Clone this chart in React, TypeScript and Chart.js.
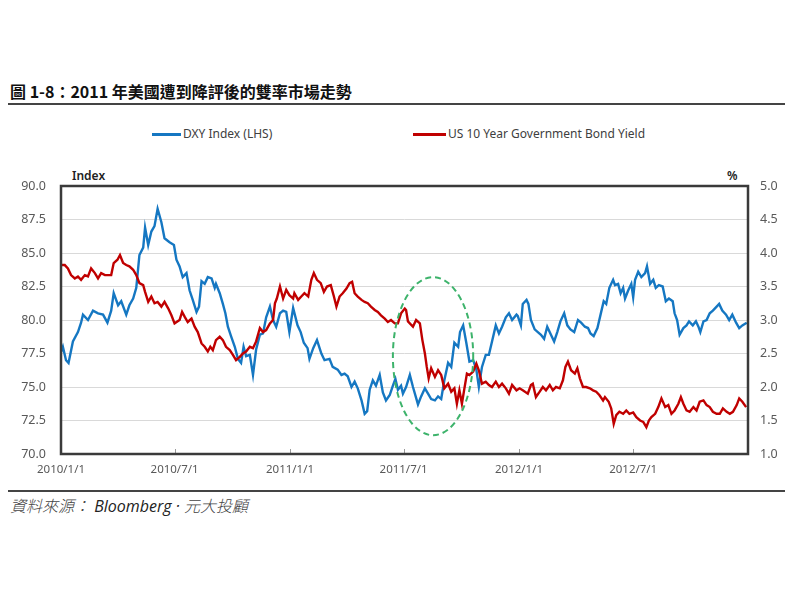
import React, { useEffect, useRef } from "react";
import { Chart, registerables } from "chart.js";

Chart.register(...registerables);

// x axis: days since 2010/1/1
const tickDays = [0, 181, 365, 546, 730, 912];
const tickLabels = ["2010/1/1", "2010/7/1", "2011/1/1", "2011/7/1", "2012/1/1", "2012/7/1"];

const dxyDays = [
  0, 3, 8, 12, 19, 27, 32, 35, 43, 51,
  59, 67, 74, 80, 84, 91, 96, 104, 109, 115,
  120, 125, 131, 134, 139, 144, 149, 154, 160, 165,
  173, 180, 184, 189, 194, 200, 205, 210, 216, 220,
  224, 229, 234, 240, 245, 247, 253, 258, 262, 266,
  271, 277, 282, 287, 291, 295, 301, 306, 311, 317,
  322, 327, 333, 338, 343, 349, 354, 359, 364, 370,
  377, 382, 387, 393, 396, 402, 408, 415, 420, 428,
  433, 441, 447, 452, 457, 463, 468, 473, 479, 484,
  488, 492, 497, 502, 508, 513, 518, 524, 529, 533,
  537, 542, 545, 550, 556, 561, 569, 574, 580, 585,
  590, 596, 601, 606, 611, 617, 622, 627, 633, 636,
  641, 646, 651, 657, 662, 666, 671, 677, 682, 687,
  693, 698, 703, 709, 714, 719, 726, 728, 733, 736,
  742, 745, 749, 755, 760, 765, 770, 775, 780, 786,
  791, 796, 802, 807, 812, 818, 824, 829, 835, 840,
  844, 849, 855, 860, 865, 869, 874, 880, 883, 888,
  892, 896, 899, 904, 909, 912, 915, 920, 925, 931,
  934, 939, 944, 948, 953, 959, 964, 969, 975, 978,
  982, 986, 992, 997, 1001, 1007, 1012, 1016, 1019, 1024,
  1029, 1034, 1039, 1045, 1049, 1054, 1060, 1065, 1070, 1076,
  1081, 1086, 1093,
];

const dxyValues = [
  77.6, 78.0, 77.0, 76.8, 78.4, 79.1, 79.8, 80.4, 80.0, 80.7,
  80.5, 80.4, 79.8, 80.7, 82.0, 81.1, 81.4, 80.4, 81.1, 81.6,
  82.4, 84.85, 85.4, 86.9, 85.6, 86.6, 87.0, 88.3, 87.3, 86.1,
  85.8, 85.6, 84.5, 84.0, 83.2, 83.5, 82.2, 81.5, 80.6, 81.0,
  82.9, 82.7, 83.2, 83.1, 82.4, 82.7, 82.0, 81.2, 80.5, 79.5,
  78.8, 78.0, 77.1, 76.8, 78.0, 77.3, 77.4, 75.9, 77.8, 78.9,
  79.0, 80.2, 81.0, 80.0, 79.5, 80.5, 80.7, 80.6, 79.1, 80.9,
  79.6, 79.1, 78.3, 77.9, 77.1, 77.9, 78.5, 77.5, 77.0, 77.1,
  76.5, 76.3, 75.9, 76.0, 75.8, 75.0, 75.4, 74.9, 74.0, 73.0,
  73.2, 74.8, 75.5, 75.1, 75.9, 74.6, 74.0, 74.4, 75.1, 75.6,
  74.8, 75.1, 74.5, 75.0, 75.9, 75.0, 73.7, 74.3, 74.9, 74.5,
  74.1, 74.0, 74.3, 74.1, 75.5, 76.8, 76.5, 78.3, 78.0, 79.1,
  79.6, 78.3, 76.9, 77.0, 76.3, 75.0, 76.5, 77.4, 77.4, 78.4,
  79.6, 79.0, 79.5, 80.2, 80.5, 80.0, 80.4, 80.3, 79.6, 81.2,
  81.5, 81.2, 80.0, 79.3, 79.1, 78.9, 78.6, 79.5, 79.0, 78.4,
  79.1, 79.9, 80.5, 79.6, 79.3, 79.1, 80.0, 79.8, 79.5, 79.4,
  79.0, 78.8, 79.4, 80.4, 81.4, 81.2, 82.4, 83.0, 82.6, 82.7,
  82.0, 82.4, 81.6, 82.2, 82.7, 81.7, 83.0, 83.6, 83.2, 83.5,
  84.0, 82.7, 83.0, 82.4, 82.6, 82.5, 81.4, 81.6, 81.4, 80.5,
  80.0, 78.9, 79.4, 79.6, 79.9, 79.6, 79.9, 79.5, 79.1, 79.9,
  80.0, 80.5, 80.7, 81.0, 81.2, 80.7, 80.4, 80.0, 80.4, 79.8,
  79.4, 79.6, 79.8,
];

const ustDays = [
  0, 6, 11, 16, 22, 27, 32, 38, 43, 48,
  54, 59, 64, 70, 75, 80, 84, 90, 94, 99,
  104, 109, 115, 120, 125, 131, 134, 139, 144, 149,
  154, 160, 165, 171, 176, 181, 189, 193, 197, 202,
  208, 213, 218, 224, 229, 234, 238, 242, 247, 253,
  258, 263, 269, 274, 279, 285, 290, 295, 301, 306,
  311, 317, 322, 327, 333, 338, 341, 344, 349, 354,
  359, 364, 370, 372, 378, 383, 388, 394, 399, 403,
  408, 414, 419, 424, 430, 435, 439, 444, 449, 455,
  460, 464, 468, 473, 479, 484, 489, 494, 500, 505,
  510, 516, 521, 526, 532, 537, 542, 548, 550, 553,
  561, 566, 572, 576, 580, 583, 586, 590, 596, 601,
  606, 611, 617, 622, 627, 631, 635, 639, 643, 647,
  651, 657, 662, 666, 671, 677, 682, 687, 693, 698,
  703, 709, 714, 719, 726, 731, 736, 744, 749, 752,
  757, 763, 768, 773, 779, 784, 789, 795, 800, 804,
  808, 813, 819, 823, 827, 832, 837, 843, 848, 853,
  858, 864, 867, 873, 877, 881, 885, 890, 896, 901,
  906, 912, 917, 923, 928, 933, 937, 941, 947, 952,
  957, 963, 968, 973, 978, 984, 988, 992, 997, 1002,
  1008, 1013, 1018, 1024, 1029, 1034, 1039, 1045, 1050, 1055,
  1061, 1066, 1071, 1077, 1081, 1086, 1092,
];

const ustValues = [
  3.82, 3.82, 3.77, 3.67, 3.62, 3.65, 3.60, 3.67, 3.65, 3.77,
  3.70, 3.62, 3.70, 3.67, 3.67, 3.67, 3.85, 3.90, 3.97, 3.85,
  3.82, 3.80, 3.75, 3.67, 3.55, 3.52, 3.42, 3.27, 3.35, 3.25,
  3.27, 3.20, 3.27, 3.17, 3.07, 2.95, 3.00, 3.12, 3.05, 2.97,
  3.02, 2.90, 2.82, 2.65, 2.60, 2.53, 2.60, 2.55, 2.70, 2.75,
  2.70, 2.60, 2.55, 2.48, 2.40, 2.45, 2.50, 2.53, 2.60, 2.58,
  2.68, 2.88, 2.82, 2.85, 2.95, 3.00, 3.25, 3.32, 3.50, 3.32,
  3.45, 3.37, 3.32, 3.40, 3.30, 3.35, 3.40, 3.35, 3.60, 3.70,
  3.60, 3.55, 3.42, 3.50, 3.52, 3.35, 3.20, 3.35, 3.40, 3.47,
  3.55, 3.57, 3.40, 3.35, 3.30, 3.27, 3.25, 3.20, 3.15, 3.12,
  3.07, 3.02, 2.97, 3.00, 2.95, 2.95, 3.10, 3.17, 3.15, 2.98,
  2.90, 3.00, 2.95, 2.70, 2.50, 2.30, 2.13, 2.28, 2.15, 2.25,
  2.18, 1.98, 2.05, 1.93, 1.98, 1.75, 1.95, 1.75, 1.98, 2.20,
  2.18, 2.23, 2.35, 2.25, 2.05, 2.08, 2.03, 2.00, 2.08, 2.00,
  2.05, 1.98, 1.90, 2.03, 1.95, 1.98, 1.95, 1.90, 2.03, 2.05,
  1.85, 1.93, 2.00, 1.95, 2.03, 1.95, 2.00, 1.98, 2.10, 2.30,
  2.38, 2.25, 2.20, 2.28, 2.13, 2.00, 2.00, 1.98, 1.95, 1.93,
  1.88, 1.80, 1.85, 1.78, 1.68, 1.45, 1.58, 1.63, 1.60, 1.65,
  1.60, 1.62, 1.55, 1.50, 1.48, 1.40, 1.50, 1.55, 1.60, 1.70,
  1.83, 1.70, 1.73, 1.60, 1.65, 1.75, 1.85, 1.75, 1.65, 1.63,
  1.70, 1.65, 1.78, 1.80, 1.73, 1.70, 1.63, 1.60, 1.60, 1.68,
  1.63, 1.60, 1.63, 1.73, 1.83, 1.78, 1.70,
];

// highlighted period (ellipse): centre day / value on left axis, radii
const highlight = { day: 593, value: 77.3, dayRadius: 64, valueRadius: 5.9 };

const BLUE = "#1577c2";
const RED = "#c00000";
const LATIN = "'Noto Sans', 'Open Sans', sans-serif";
const CJK = "'Noto Sans CJK TC', 'Noto Sans', sans-serif";

const framePlugin = {
  id: "frame",
  afterDatasetsDraw(chart: any) {
    const { ctx, chartArea: a, scales } = chart;
    ctx.save();
    const x = scales.x;
    const y = scales.y;
    const cx = x.getPixelForValue(highlight.day);
    const cy = y.getPixelForValue(highlight.value);
    const rx = x.getPixelForValue(highlight.day + highlight.dayRadius) - cx;
    const ry = cy - y.getPixelForValue(highlight.value + highlight.valueRadius);
    ctx.beginPath();
    ctx.setLineDash([6, 4]);
    ctx.lineWidth = 2;
    ctx.strokeStyle = "#3db36b";
    ctx.ellipse(cx, cy, rx, ry, 0, 0, Math.PI * 2);
    ctx.stroke();
    ctx.setLineDash([]);
    ctx.strokeStyle = "#9a9a9a";
    ctx.lineWidth = 1;
    tickDays.forEach((d) => {
      if (d === 0) return;
      const px = Math.round(x.getPixelForValue(d)) + 0.5;
      ctx.beginPath();
      ctx.moveTo(px, a.bottom);
      ctx.lineTo(px, a.bottom - 5);
      ctx.stroke();
    });
    ctx.strokeStyle = "#3a3a3a";
    ctx.lineWidth = 2.5;
    ctx.strokeRect(a.left, a.top, a.right - a.left, a.bottom - a.top);
    ctx.restore();
  },
};

export default function App() {
  const ref = useRef<HTMLCanvasElement | null>(null);

  useEffect(() => {
    if (!ref.current) return;
    const chart = new Chart(ref.current, {
      type: "line",
      data: {
        datasets: [
          {
            label: "US 10 Year Government Bond Yield",
            data: ustDays.map((d, i) => ({ x: d, y: ustValues[i] })),
            borderColor: RED,
            backgroundColor: RED,
            borderWidth: 2.4,
            pointRadius: 0,
            tension: 0,
            yAxisID: "y1",
            order: 0,
          },
          {
            label: "DXY Index (LHS)",
            data: dxyDays.map((d, i) => ({ x: d, y: dxyValues[i] })),
            borderColor: BLUE,
            backgroundColor: BLUE,
            borderWidth: 2.4,
            pointRadius: 0,
            tension: 0,
            yAxisID: "y",
            order: 1,
          },
        ],
      },
      options: {
        animation: false,
        responsive: false,
        layout: { padding: { top: 36, left: 0, right: 0, bottom: 0 } },
        plugins: {
          legend: { display: false },
          tooltip: { enabled: false },
        },
        scales: {
          x: {
            type: "linear",
            min: 0,
            max: 1095,
            afterBuildTicks: (s: any) => {
              s.ticks = tickDays.map((v) => ({ value: v }));
            },
            afterFit: (s: any) => {
              s.height = 36;
            },
            grid: { display: false, drawTicks: false },
            border: { display: false },
            ticks: {
              autoSkip: false,
              maxRotation: 0,
              padding: 9,
              color: "#595959",
              font: { family: LATIN, size: 11.5 },
              callback: (v: any) => {
                const i = tickDays.indexOf(Number(v));
                return i >= 0 ? tickLabels[i] : "";
              },
            },
          },
          y: {
            position: "left",
            min: 70,
            max: 90,
            afterFit: (s: any) => {
              s.width = 61;
            },
            grid: { color: "#d9d9d9", lineWidth: 1, drawTicks: false },
            border: { display: false },
            ticks: {
              stepSize: 2.5,
              padding: 15,
              color: "#595959",
              font: { family: LATIN, size: 12.5 },
              callback: (v: any) => Number(v).toFixed(1),
            },
          },
          y1: {
            position: "right",
            min: 1,
            max: 5,
            afterFit: (s: any) => {
              s.width = 52;
            },
            grid: { display: false, drawTicks: false },
            border: { display: false },
            ticks: {
              stepSize: 0.5,
              padding: 12,
              color: "#595959",
              font: { family: LATIN, size: 12.5 },
              callback: (v: any) => Number(v).toFixed(1),
            },
          },
        },
      },
      plugins: [framePlugin],
    });
    return () => chart.destroy();
  }, []);

  const abs = (s: React.CSSProperties): React.CSSProperties => ({ position: "absolute", ...s });

  return (
    <div style={abs({ left: 0, top: 0, width: 800, height: 600, background: "#fff", overflow: "hidden" })}>
      <div
        style={abs({
          left: 10,
          top: 80,
          fontFamily: CJK,
          fontWeight: 700,
          fontSize: 16,
          lineHeight: "22px",
          color: "#111",
          whiteSpace: "nowrap",
        })}
      >
        圖 1-8：2011 年美國遭到降評後的雙率市場走勢
      </div>
      <div style={abs({ left: 8, top: 103, width: 777, height: 2, background: "#444" })} />

      <div style={abs({ left: 152, top: 133, width: 29, height: 3, background: BLUE })} />
      <div
        style={abs({
          left: 183,
          top: 126,
          fontFamily: LATIN,
          fontSize: 12,
          lineHeight: "16px",
          color: "#404040",
          whiteSpace: "nowrap",
        })}
      >
        DXY Index (LHS)
      </div>
      <div style={abs({ left: 413, top: 133, width: 33, height: 3, background: RED })} />
      <div
        style={abs({
          left: 448,
          top: 126,
          fontFamily: LATIN,
          fontSize: 12,
          lineHeight: "16px",
          color: "#404040",
          whiteSpace: "nowrap",
        })}
      >
        US 10 Year Government Bond Yield
      </div>

      <div
        style={abs({
          left: 72,
          top: 168,
          fontFamily: LATIN,
          fontSize: 12,
          fontWeight: 600,
          lineHeight: "16px",
          color: "#222",
        })}
      >
        Index
      </div>
      <div
        style={abs({
          left: 727,
          top: 168,
          fontFamily: LATIN,
          fontSize: 12,
          fontWeight: 600,
          lineHeight: "16px",
          color: "#222",
        })}
      >
        %
      </div>

      <canvas ref={ref} width={800} height={340} style={abs({ left: 0, top: 150, width: 800, height: 340 })} />

      <div style={abs({ left: 8, top: 490, width: 777, height: 2, background: "#444" })} />
      <div
        style={abs({
          left: 10,
          top: 495,
          fontSize: 16,
          lineHeight: "21px",
          fontStyle: "italic",
          whiteSpace: "nowrap",
        })}
      >
        <span style={{ fontFamily: CJK, fontWeight: 300, color: "#444" }}>資料來源：</span>
        <span style={{ fontFamily: "'Open Sans', sans-serif", color: "#222" }}> Bloomberg · </span>
        <span style={{ fontFamily: CJK, fontWeight: 300, color: "#444" }}>元大投顧</span>
      </div>
    </div>
  );
}
